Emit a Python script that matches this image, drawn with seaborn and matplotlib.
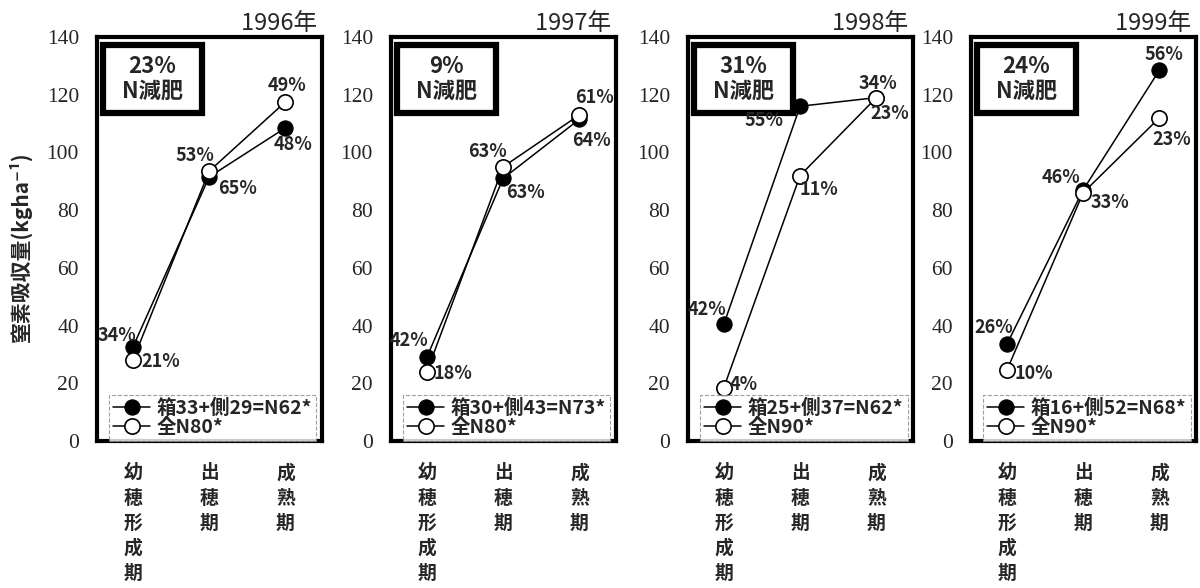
# Nitrogen uptake by growth stage, 1996-1999
import matplotlib
matplotlib.use('Agg')
import pandas as pd
import matplotlib.pyplot as plt
import matplotlib.patches as mpatches
import seaborn as sns

# data
years = ['1996年', '1997年', '1998年', '1999年']
stages = ['幼\n穂\n形\n成\n期', '出\n穂\n期', '成\n熟\n期']
split_values = [[32.5, 91.5, 108.5], [29, 91, 111.5], [40.5, 116, 119], [33.5, 87, 128.5]]
full_values = [[28, 93.5, 117.5], [24, 95, 113], [18.5, 92, 119], [24.5, 86, 112]]
split_pct = [['34%', '65%', '48%'], ['42%', '63%', '64%'], ['42%', '55%', '23%'], ['26%', '46%', '56%']]
full_pct = [['21%', '53%', '49%'], ['18%', '63%', '61%'], ['4%', '11%', '34%'], ['10%', '33%', '23%']]
reduction = ['23%', '9%', '31%', '24%']
split_labels = ['箱33+側29=N62*', '箱30+側43=N73*', '箱25+側37=N62*', '箱16+側52=N68*']
full_labels = ['全N80*', '全N80*', '全N90*', '全N90*']

# label offsets in pixels (layout only)
split_off = [[(-16, 12), (28, -12), (8, -17)], [(-18, 17), (22, -14), (12, -21)],
             [(-17, 15), (-36, -14), (13, -16)], [(-13, 17), (-22, 12), (5, 16)]]
full_off = [[(28, -1), (-14, 16), (2, 16)], [(26, -2), (-16, 15), (15, 17)],
            [(20, 3), (19, -14), (2, 14)], [(27, -3), (27, -10), (12, -22)]]

sns.set_style('white')
plt.rcParams['font.family'] = ['Noto Sans CJK JP', 'DejaVu Sans']

fig = plt.figure(figsize=(12, 5.88), dpi=100)
lefts = [97, 391, 688, 971]

for i, year in enumerate(years):
    ax = fig.add_axes([lefts[i] / 1200, 1 - 441 / 588, 225 / 1200, 404 / 588])
    df = pd.DataFrame({'stage': [0, 1, 2],
                       'split': split_values[i],
                       'full': full_values[i]})
    sns.lineplot(data=df, x='stage', y='split', ax=ax, color='black', lw=1.1,
                 marker='o', markersize=11, markerfacecolor='black',
                 markeredgecolor='black', label=split_labels[i])
    sns.lineplot(data=df, x='stage', y='full', ax=ax, color='black', lw=1.1,
                 marker='o', markersize=11, markerfacecolor='white',
                 markeredgecolor='black', markeredgewidth=1.2, label=full_labels[i])

    for j in range(3):
        ax.annotate(split_pct[i][j], (j, split_values[i][j]), xytext=split_off[i][j],
                    textcoords='offset pixels', ha='center', va='center',
                    fontsize=13, fontweight='bold', zorder=6)
        ax.annotate(full_pct[i][j], (j, full_values[i][j]), xytext=full_off[i][j],
                    textcoords='offset pixels', ha='center', va='center',
                    fontsize=13, fontweight='bold', zorder=6)

    ax.set_xlim(-0.47, 2.48)
    ax.set_ylim(0, 140)
    ax.set_yticks(range(0, 141, 20))
    ax.set_xticks([0, 1, 2])
    ax.set_xticklabels(stages, fontsize=13.5, fontweight='bold', linespacing=1.42, va='top')
    for lab in ax.get_yticklabels():
        lab.set_fontfamily('Liberation Serif')
        lab.set_fontsize(15.5)
    ax.tick_params(axis='y', direction='in', length=4, pad=13)
    ax.tick_params(axis='x', length=0, pad=16)
    ax.set_xlabel('')
    ax.set_ylabel('')
    for sp in ax.spines.values():
        sp.set_linewidth(3)
        sp.set_color('black')

    ax.set_title(year + ' ', loc='right', fontsize=17, pad=5)

    # reduction box
    ax.add_patch(mpatches.Rectangle((0.027, 0.812), 0.438, 0.168, transform=ax.transAxes,
                                    facecolor='white', edgecolor='black', lw=4.5, zorder=4))
    ax.text(0.246, 0.896, reduction[i] + '\nN減肥', transform=ax.transAxes, ha='center',
            va='center', fontsize=16, fontweight='bold', linespacing=1.1, zorder=5)

    leg = ax.legend(loc='lower left', bbox_to_anchor=(0.055, 0.0), borderaxespad=0,
                    frameon=True, fancybox=False, borderpad=0.2, labelspacing=0.0,
                    handlelength=1.9, handletextpad=0.35,
                    prop={'weight': 'bold', 'size': 14})
    leg.get_frame().set_edgecolor('#888888')
    leg.get_frame().set_linestyle('--')
    leg.get_frame().set_linewidth(0.8)

fig.text(20 / 1200, 1 - 247 / 588, '窒素吸収量(kgha⁻¹)', rotation=90, ha='center',
         va='center', fontsize=15, fontweight='bold')

fig.savefig('out.png', dpi=100)
